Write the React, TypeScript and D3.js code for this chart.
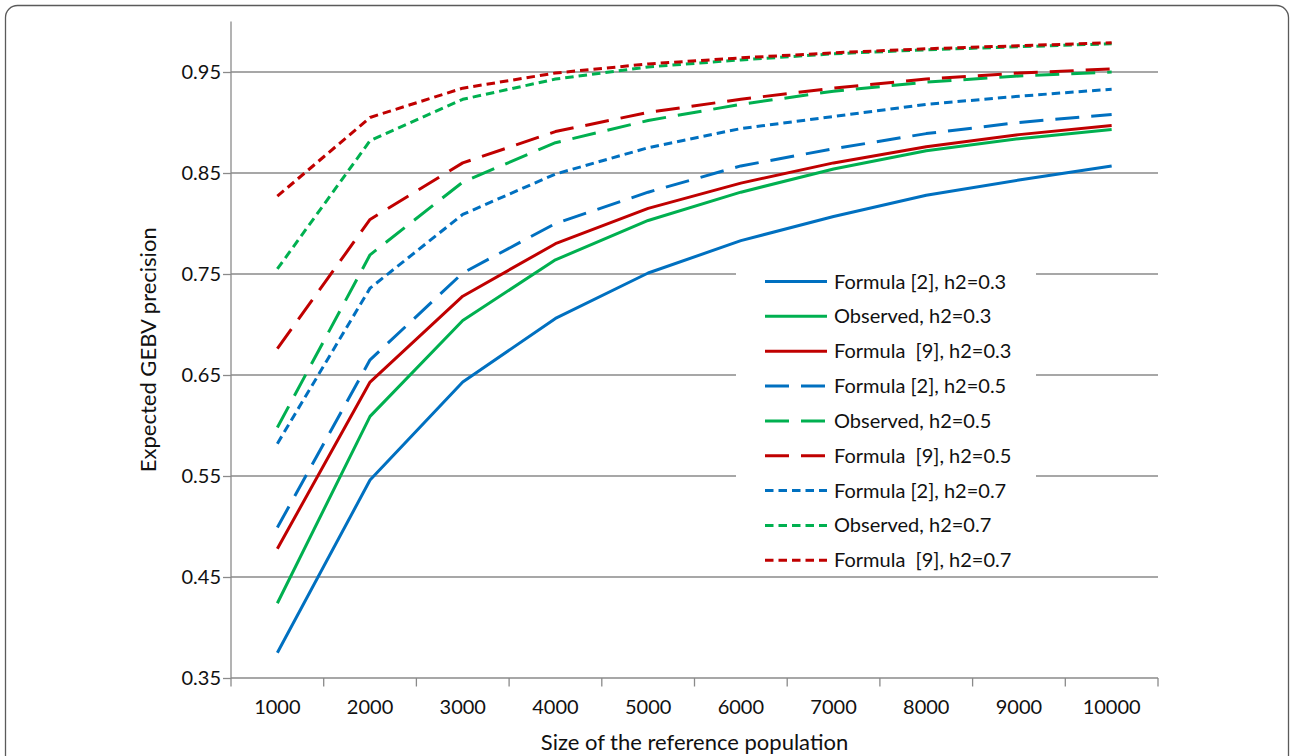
import React, { useEffect, useRef } from 'react';
import * as d3 from 'd3';

// reference population sizes (x categories)
const sizes = ['1000', '2000', '3000', '4000', '5000', '6000', '7000', '8000', '9000', '10000'];

// expected GEBV precision
const formula2H03 = [0.375, 0.546, 0.643, 0.706, 0.751, 0.783, 0.807, 0.828, 0.843, 0.857];
const observedH03 = [0.424, 0.609, 0.704, 0.764, 0.803, 0.831, 0.854, 0.872, 0.884, 0.893];
const formula9H03 = [0.478, 0.643, 0.728, 0.780, 0.815, 0.840, 0.860, 0.876, 0.888, 0.897];
const formula2H05 = [0.499, 0.665, 0.751, 0.800, 0.831, 0.857, 0.874, 0.889, 0.900, 0.908];
const observedH05 = [0.598, 0.769, 0.841, 0.880, 0.902, 0.918, 0.931, 0.940, 0.946, 0.950];
const formula9H05 = [0.676, 0.804, 0.860, 0.891, 0.910, 0.923, 0.934, 0.943, 0.949, 0.953];
const formula2H07 = [0.582, 0.736, 0.809, 0.849, 0.875, 0.894, 0.906, 0.918, 0.926, 0.933];
const observedH07 = [0.755, 0.882, 0.923, 0.943, 0.955, 0.962, 0.968, 0.972, 0.975, 0.978];
const formula9H07 = [0.827, 0.905, 0.934, 0.949, 0.958, 0.964, 0.969, 0.973, 0.976, 0.979];

const yTicks = [0.35, 0.45, 0.55, 0.65, 0.75, 0.85, 0.95];

const BLUE = '#0070C0';
const GREEN = '#00B050';
const RED = '#C00000';

const series = [
  { name: 'Formula [2], h2=0.3', values: formula2H03, color: BLUE, dash: '' },
  { name: 'Observed, h2=0.3', values: observedH03, color: GREEN, dash: '' },
  { name: 'Formula  [9], h2=0.3', values: formula9H03, color: RED, dash: '' },
  { name: 'Formula [2], h2=0.5', values: formula2H05, color: BLUE, dash: '24 12' },
  { name: 'Observed, h2=0.5', values: observedH05, color: GREEN, dash: '24 12' },
  { name: 'Formula  [9], h2=0.5', values: formula9H05, color: RED, dash: '24 12' },
  { name: 'Formula [2], h2=0.7', values: formula2H07, color: BLUE, dash: '8.5 5' },
  { name: 'Observed, h2=0.7', values: observedH07, color: GREEN, dash: '8.5 5' },
  { name: 'Formula  [9], h2=0.7', values: formula9H07, color: RED, dash: '8.5 5' },
];

const FONT = 'Lato, "Open Sans", sans-serif';
const AXIS = '#8a8a8a';

export default function App() {
  const ref = useRef<SVGSVGElement>(null);

  useEffect(() => {
    if (!ref.current) return;
    const svg = d3.select(ref.current);
    svg.selectAll('*').remove();

    const left = 231, right = 1158, top = 21.5, bottom = 678;

    const x = d3.scaleBand().domain(sizes).range([left, right]);
    const y = d3.scaleLinear().domain([0.35, 1.0]).range([bottom, top]);

    // outer frame
    svg.append('rect')
      .attr('x', 5.5).attr('y', 5.5)
      .attr('width', 1283).attr('height', 820)
      .attr('rx', 12)
      .attr('fill', 'white')
      .attr('stroke', '#5a5a5a')
      .attr('stroke-width', 1.3);

    // gridlines
    svg.append('g')
      .selectAll('line')
      .data(yTicks.slice(1))
      .enter()
      .append('line')
      .attr('x1', left).attr('x2', right)
      .attr('y1', d => y(d)).attr('y2', d => y(d))
      .attr('stroke', AXIS)
      .attr('stroke-width', 1.3);

    // y axis
    const yAxis = svg.append('g')
      .attr('transform', `translate(${left},0)`)
      .call(d3.axisLeft(y).tickValues(yTicks).tickSize(8).tickPadding(2).tickFormat(d3.format('.2f')));
    yAxis.select('.domain').remove();
    yAxis.append('line')
      .attr('x1', 0).attr('x2', 0).attr('y1', top).attr('y2', bottom)
      .attr('stroke', AXIS).attr('stroke-width', 1.3);
    yAxis.selectAll('.tick line').attr('stroke', AXIS).attr('stroke-width', 1.3);
    yAxis.selectAll('.tick text')
      .attr('font-family', FONT).attr('font-size', 20).attr('fill', '#111');

    // x axis (ticks at category boundaries)
    const xg = svg.append('g').attr('transform', `translate(0,${bottom})`);
    xg.append('line')
      .attr('x1', left).attr('x2', right).attr('y1', 0).attr('y2', 0)
      .attr('stroke', AXIS).attr('stroke-width', 1.3);
    const bounds = sizes.map(s => x(s) as number).concat([right]);
    xg.selectAll('line.tk')
      .data(bounds)
      .enter()
      .append('line')
      .attr('class', 'tk')
      .attr('x1', d => d).attr('x2', d => d)
      .attr('y1', 0).attr('y2', 8.5)
      .attr('stroke', AXIS).attr('stroke-width', 1.3);
    xg.selectAll('text')
      .data(sizes)
      .enter()
      .append('text')
      .attr('x', d => (x(d) as number) + x.bandwidth() / 2)
      .attr('y', 36)
      .attr('text-anchor', 'middle')
      .attr('font-family', FONT).attr('font-size', 20).attr('fill', '#111')
      .text(d => d);

    // axis titles
    svg.append('text')
      .attr('x', (left + right) / 2).attr('y', 750)
      .attr('text-anchor', 'middle')
      .attr('font-family', FONT).attr('font-size', 22).attr('fill', '#111')
      .text('Size of the reference population');
    svg.append('text')
      .attr('transform', `translate(156,${(top + bottom) / 2}) rotate(-90)`)
      .attr('text-anchor', 'middle')
      .attr('font-family', FONT).attr('font-size', 22).attr('fill', '#111')
      .text('Expected GEBV precision');

    // series
    const line = d3.line<number>()
      .x((_, i) => (x(sizes[i]) as number) + x.bandwidth() / 2)
      .y(d => y(d));

    svg.append('g')
      .selectAll('path')
      .data(series)
      .enter()
      .append('path')
      .attr('d', d => line(d.values))
      .attr('fill', 'none')
      .attr('stroke', d => d.color)
      .attr('stroke-width', 3)
      .attr('stroke-dasharray', d => d.dash || null)
      .attr('stroke-linejoin', 'round');

    // legend
    const lg = svg.append('g');
    lg.append('rect')
      .attr('x', 736).attr('y', 262)
      .attr('width', 300).attr('height', 314)
      .attr('fill', 'white');
    const row = lg.selectAll('g.row')
      .data(series)
      .enter()
      .append('g')
      .attr('class', 'row')
      .attr('transform', (_, i) => `translate(0,${281.5 + i * 34.85})`);
    row.append('line')
      .attr('x1', 765).attr('x2', 827)
      .attr('y1', 0).attr('y2', 0)
      .attr('stroke', d => d.color)
      .attr('stroke-width', 3)
      .attr('stroke-dasharray', d => d.dash || null);
    row.append('text')
      .attr('x', 834).attr('y', 7)
      .attr('font-family', FONT).attr('font-size', 20).attr('fill', '#111')
      .style('white-space', 'pre')
      .text(d => d.name);
  }, []);

  return (
    <svg
      ref={ref}
      width={1290}
      height={756}
      style={{ position: 'absolute', left: 0, top: 0, background: 'white' }}
    />
  );
}
